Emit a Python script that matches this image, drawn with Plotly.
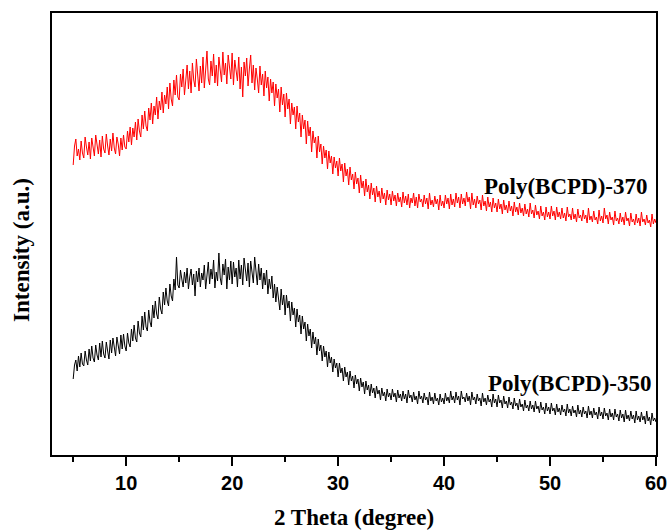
import numpy as np
import plotly.graph_objects as go

# 2-theta positions (degree), 0.125 degree step from 5 to 60
two_theta = np.round(np.arange(5.0, 60.0001, 0.125), 3)

# Poly(BCPD)-370 intensity (a.u.)
poly_370 = [
    290, 309, 316, 299, 306, 295, 314, 302, 297, 318, 308, 300, 313, 296, 317, 305, 299, 320, 310, 301,
    315, 298, 319, 306, 302, 321, 309, 300, 316, 304, 322, 307, 301, 318, 311, 299, 317, 305, 320, 308,
    306, 324, 313, 328, 310, 327, 318, 333, 315, 336, 324, 318, 340, 326, 344, 329, 324, 347, 335, 352,
    331, 349, 340, 358, 336, 354, 345, 363, 342, 360, 351, 368, 346, 372, 356, 349, 375, 360, 380, 358,
    355, 381, 368, 386, 360, 377, 390, 366, 384, 362, 392, 375, 368, 396, 380, 364, 389, 372, 398, 367,
    385, 404, 376, 370, 394, 379, 401, 372, 390, 369, 398, 383, 373, 403, 380, 392, 371, 400, 385, 376,
    402, 370, 395, 381, 374, 398, 366, 388, 358, 393, 379, 397, 369, 386, 400, 372, 390, 365, 387, 376,
    362, 389, 370, 381, 359, 384, 367, 378, 354, 376, 362, 373, 349, 371, 357, 366, 343, 368, 350, 361,
    338, 362, 346, 356, 331, 352, 340, 348, 326, 349, 333, 342, 318, 340, 326, 335, 311, 334, 319, 328,
    303, 324, 312, 318, 297, 319, 303, 311, 291, 309, 297, 305, 286, 304, 292, 299, 281, 298, 287, 294,
    279, 297, 284, 291, 273, 292, 279, 286, 270, 288, 275, 281, 266, 283, 271, 277, 262, 280, 267, 274,
    259, 276, 263, 270, 256, 272, 260, 267, 253, 269, 258, 264, 252, 267, 256, 262, 250, 265, 255, 261,
    250, 264, 254, 260, 249, 262, 253, 258, 248, 263, 252, 259, 250, 261, 247, 257, 252, 262, 249, 258,
    247, 261, 253, 256, 248, 260, 251, 257, 246, 262, 250, 255, 248, 259, 251, 256, 245, 260, 249, 254,
    247, 260, 251, 257, 246, 261, 250, 256, 248, 262, 252, 258, 247, 261, 251, 257, 249, 263, 253, 258,
    246, 262, 250, 256, 247, 259, 251, 255, 245, 260, 249, 254, 244, 258, 248, 253, 243, 257, 247, 252,
    243, 256, 246, 251, 241, 255, 245, 250, 242, 254, 244, 249, 239, 253, 243, 248, 240, 252, 242, 247,
    239, 251, 241, 246, 238, 252, 241, 245, 237, 250, 240, 244, 236, 249, 239, 243, 235, 248, 238, 243,
    236, 249, 239, 244, 235, 248, 238, 243, 236, 247, 237, 242, 234, 248, 238, 241, 235, 247, 236, 241,
    233, 246, 237, 240, 234, 245, 236, 240, 232, 247, 235, 239, 233, 244, 235, 238, 231, 245, 234, 239,
    232, 247, 236, 240, 231, 243, 235, 238, 230, 244, 234, 237, 231, 242, 233, 238, 230, 243, 234, 237,
    229, 242, 233, 236, 230, 241, 232, 237, 229, 243, 233, 236, 230, 240, 232, 235, 228, 241, 231, 236,
    232,
]

# Poly(BCPD)-350 intensity (a.u.)
poly_350 = [
    76, 90, 95, 84, 99, 88, 102, 91, 89, 104, 95, 90, 106, 94, 109, 97, 93, 110, 100, 95,
    112, 98, 114, 101, 97, 113, 104, 96, 115, 102, 117, 105, 99, 118, 107, 101, 120, 106, 121, 109,
    104, 122, 112, 108, 126, 114, 130, 117, 113, 134, 122, 118, 139, 125, 143, 128, 124, 145, 133, 128,
    150, 137, 154, 141, 136, 158, 146, 141, 163, 150, 167, 154, 149, 171, 159, 154, 176, 165, 198, 170,
    167, 185, 176, 168, 183, 172, 187, 166, 178, 186, 170, 181, 159, 184, 173, 187, 168, 182, 175, 190,
    166, 184, 193, 171, 186, 176, 195, 167, 183, 174, 202, 177, 170, 191, 180, 196, 166, 188, 175, 194,
    171, 193, 178, 187, 168, 195, 176, 190, 170, 197, 181, 174, 192, 168, 194, 179, 172, 198, 183, 170,
    191, 175, 187, 166, 182, 170, 185, 161, 176, 166, 179, 157, 171, 153, 168, 158, 145, 166, 150, 160,
    140, 160, 147, 154, 134, 153, 140, 147, 128, 146, 133, 140, 121, 139, 126, 133, 114, 131, 119, 126,
    107, 123, 111, 118, 100, 116, 104, 110, 94, 109, 98, 104, 88, 103, 92, 98, 83, 96, 87, 92,
    78, 92, 82, 87, 74, 88, 78, 83, 70, 84, 74, 79, 67, 80, 71, 76, 64, 77, 68, 73,
    61, 74, 65, 70, 59, 71, 62, 67, 57, 69, 61, 65, 55, 67, 59, 63, 54, 66, 58, 62,
    55, 66, 58, 62, 53, 65, 57, 61, 54, 64, 56, 61, 52, 65, 57, 60, 53, 63, 55, 59,
    51, 64, 56, 59, 52, 62, 55, 58, 50, 63, 54, 58, 51, 62, 54, 57, 50, 61, 53, 57,
    51, 62, 54, 58, 52, 64, 55, 59, 52, 63, 55, 59, 50, 64, 56, 58, 53, 62, 54, 59,
    50, 63, 55, 58, 51, 61, 54, 57, 49, 62, 53, 57, 50, 60, 53, 56, 48, 61, 52, 56,
    48, 60, 52, 55, 47, 59, 51, 54, 47, 58, 50, 53, 46, 57, 49, 52, 45, 56, 48, 51,
    44, 55, 47, 50, 44, 54, 46, 50, 43, 54, 46, 49, 42, 53, 45, 48, 41, 52, 44, 48,
    41, 52, 44, 47, 40, 51, 43, 47, 40, 50, 43, 46, 39, 51, 42, 46, 39, 49, 42, 45,
    38, 50, 41, 45, 38, 48, 41, 44, 37, 49, 40, 44, 37, 47, 40, 43, 36, 48, 39, 43,
    36, 47, 39, 42, 35, 46, 38, 42, 35, 46, 38, 41, 34, 45, 37, 41, 33, 45, 36, 40,
    34, 44, 36, 40, 32, 44, 35, 39, 33, 43, 35, 39, 31, 44, 34, 38, 30, 42, 34, 37,
    33,
]

labels = ["Poly(BCPD)-370", "Poly(BCPD)-350"]
label_pos = [(51.5, 269), (51.9, 72)]

x_ticks = [10, 20, 30, 40, 50, 60]

fig = go.Figure()
fig.add_trace(go.Scatter(x=two_theta, y=poly_370, mode="lines",
                         line=dict(color="#ff0000", width=1), name=labels[0]))
fig.add_trace(go.Scatter(x=two_theta, y=poly_350, mode="lines",
                         line=dict(color="#000000", width=1), name=labels[1]))

serif = "Liberation Serif, Times New Roman, serif"
sans = "Liberation Sans, Arial, sans-serif"

for lab, (lx, ly) in zip(labels, label_pos):
    fig.add_annotation(x=lx, y=ly, xref="x", yref="y", text=lab, showarrow=False,
                       font=dict(family=serif, size=23, color="black", weight="bold"))

fig.add_annotation(x=0.5, y=-0.1425, xref="paper", yref="paper", text="2 Theta (degree)",
                   showarrow=False, xanchor="center", yanchor="middle",
                   font=dict(family=serif, size=23, color="black", weight="bold"))
fig.add_annotation(x=-0.0497, y=0.464, xref="paper", yref="paper", text="Intensity (a.u.)",
                   showarrow=False, textangle=-90, xanchor="center", yanchor="middle",
                   font=dict(family=serif, size=23, color="black", weight="bold"))

fig.update_layout(
    width=667, height=531, autosize=False,
    margin=dict(l=52, r=11, t=13, b=76, autoexpand=False),
    paper_bgcolor="white", plot_bgcolor="white",
    showlegend=False,
    xaxis=dict(range=[3, 60], tickvals=x_ticks, ticks="outside", ticklen=9, tickwidth=1.5,
               tickcolor="black", showline=True, linecolor="black", linewidth=1.5, mirror=True,
               showgrid=False, zeroline=False, automargin=False, ticklabeloverflow="allow",
               tickfont=dict(family=sans, size=20, color="black", weight="bold"),
               minor=dict(dtick=5, tick0=0, ticks="outside", ticklen=5, tickwidth=1.5, tickcolor="black")),
    yaxis=dict(range=[0, 442], showticklabels=False, ticks="", showline=True, linecolor="black",
               linewidth=1.5, mirror=True, showgrid=False, zeroline=False, automargin=False),
)

fig.write_html("out.html",
               config={"responsive": False, "displayModeBar": False},
               post_script="document.body.style.margin='0px';document.body.style.overflow='hidden';")
